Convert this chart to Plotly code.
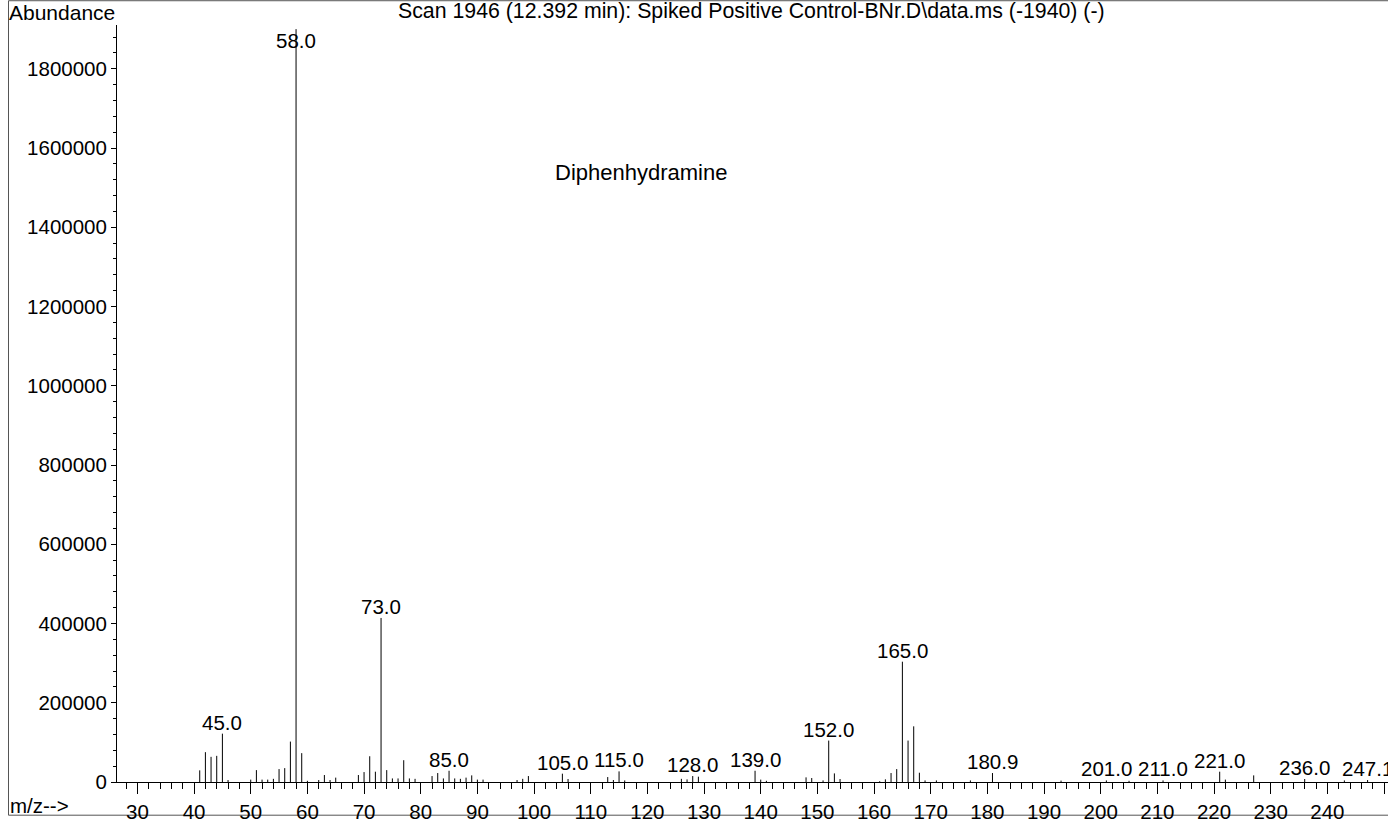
import plotly.graph_objects as go

# m/z values and abundances
mz = [41, 42, 43, 44, 45, 46, 50, 51, 52, 53, 54, 55, 56, 57, 58, 59, 60, 62, 63, 64, 65,
      69, 70, 71, 72, 73, 74, 75, 76, 77, 78, 79, 82, 83, 84, 85, 86, 87, 88, 89, 90, 91,
      97, 98, 99, 105, 106, 113, 114, 115, 116, 126, 127, 128, 129, 139, 140, 141,
      148, 149, 151, 152, 153, 154, 161, 162, 163, 164, 165, 166, 167, 168, 169, 171,
      177, 180.9, 193, 201, 205, 211, 221, 222, 227, 236, 243, 247.1]
abundance = [29400, 75300, 63500, 66000, 122000, 5000, 6000, 30000, 6000, 6000, 8000, 32600,
             35000, 102000, 1900000, 72800, 3000, 5000, 17600, 5000, 11000,
             17600, 25000, 65000, 26000, 414000, 30000, 9000, 9000, 55000, 9000, 8000,
             15000, 22600, 9000, 28400, 9000, 8000, 11000, 16700, 6000, 6000,
             5000, 8000, 15000, 21000, 7500, 12500, 5000, 26800, 4000, 8000, 6500, 15000,
             13400, 28400, 6000, 3000, 11700, 10000, 4000, 104500, 21700, 7500,
             2000, 6700, 22600, 32600, 303600, 104500, 140500, 23400, 4000, 4000,
             4000, 22600, 3500, 4000, 3000, 4000, 26000, 6000, 16700, 7500, 4000, 5000]

labeled_mz = [45, 58, 73, 85, 105, 115, 128, 139, 152, 165, 180.9, 201, 211, 221, 236, 247.1]

title_text = "Scan 1946 (12.392 min): Spiked Positive Control-BNr.D\\data.ms (-1940) (-)"
compound = "Diphenhydramine"

FONT = "Liberation Sans, Arial, Helvetica, sans-serif"

xs, ys = [], []
for m, a in zip(mz, abundance):
    xs += [m, m, None]
    ys += [0, a, None]

fig = go.Figure()
fig.add_trace(go.Scatter(x=xs, y=ys, mode="lines",
                         line=dict(color="black", width=1),
                         hoverinfo="skip", showlegend=False))

Y_MAX = 1910460
lookup = dict(zip(mz, abundance))
for m in labeled_mz:
    a = lookup[m]
    if a > Y_MAX * 0.95:
        fig.add_annotation(x=m, y=1, xref="x", yref="paper", text=f"{m:.1f}",
                           showarrow=False, yanchor="top", yshift=-2,
                           font=dict(size=20.5, color="black", family=FONT))
    else:
        fig.add_annotation(x=m, y=a, xref="x", yref="y", text=f"{m:.1f}",
                           showarrow=False, yanchor="bottom", yshift=-2,
                           font=dict(size=20.5, color="black", family=FONT))

TOP, BOTTOM = 25, 789
K = 786.0 / 783.0
PLOT_W = 1388 - 117
PLOT_H = BOTTOM - TOP

def px_x(p):
    return (p - 117) / PLOT_W

def px_y(p):
    return (BOTTOM - p * K) / PLOT_H

fig.add_annotation(x=px_x(7), y=px_y(12), xref="paper", yref="paper", text="Abundance",
                   showarrow=False, xanchor="left", yanchor="middle",
                   font=dict(size=21, color="black", family=FONT))
fig.add_annotation(x=px_x(8), y=px_y(810), xref="paper", yref="paper", text="m/z-->",
                   showarrow=False, xanchor="left", yanchor="middle",
                   font=dict(size=20.5, color="black", family=FONT))
fig.add_annotation(x=px_x(751), y=px_y(11), xref="paper", yref="paper", text=title_text,
                   showarrow=False, xanchor="center", yanchor="middle",
                   font=dict(size=21.3, color="black", family=FONT))
fig.add_annotation(x=px_x(641), y=px_y(173), xref="paper", yref="paper", text=compound,
                   showarrow=False, xanchor="center", yanchor="middle",
                   font=dict(size=22, color="black", family=FONT))

fig.add_shape(type="rect", xref="paper", yref="paper",
              x0=px_x(8.5), x1=px_x(1400), y0=(BOTTOM - 822.5) / PLOT_H, y1=px_y(0.5),
              line=dict(color="#555555", width=1), fillcolor="rgba(0,0,0,0)", layer="below")

fig.update_layout(
    width=1388, height=823,
    margin=dict(l=117, r=0, t=TOP, b=823 - BOTTOM),
    paper_bgcolor="white", plot_bgcolor="white",
    font=dict(family=FONT, size=20, color="black"),
    showlegend=False,
)
fig.update_xaxes(range=[26.4, 250.7], showgrid=False, zeroline=False,
                 showline=True, linecolor="black", linewidth=1,
                 tickmode="linear", tick0=30, dtick=10,
                 ticks="outside", ticklen=11, tickwidth=1, tickcolor="black",
                 minor=dict(dtick=2, tick0=30, ticks="outside", ticklen=6,
                            tickwidth=1, tickcolor="black", showgrid=False),
                 tickfont=dict(size=20.5, family=FONT))
fig.update_yaxes(range=[0, Y_MAX], showgrid=False, zeroline=False,
                 showline=True, linecolor="black", linewidth=1,
                 tickmode="linear", tick0=0, dtick=200000, tickformat="d",
                 ticks="outside", ticklen=5, tickwidth=1, tickcolor="black",
                 minor=dict(dtick=40000, ticks="outside", ticklen=3,
                            tickwidth=1, tickcolor="black", showgrid=False),
                 tickfont=dict(size=20.5, family=FONT))

fig.write_html("out.html", config={"displayModeBar": False},
               post_script="document.body.style.margin='0';document.body.style.overflow='hidden';")
